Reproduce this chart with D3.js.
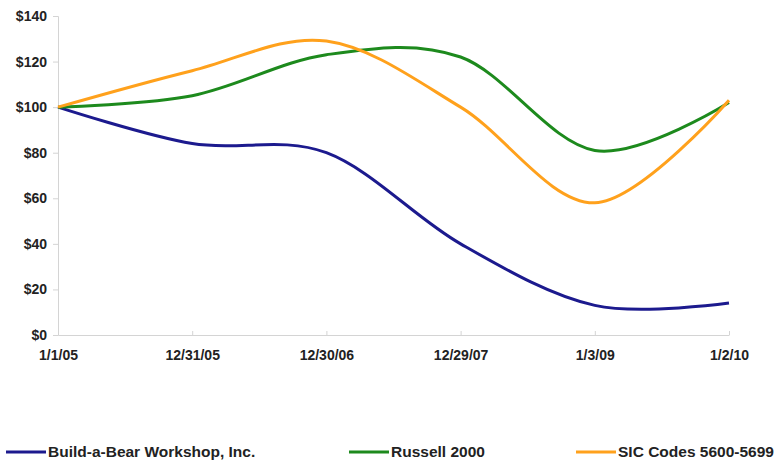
<!DOCTYPE html>
<html>
<head>
<meta charset="utf-8">
<script src="https://cdn.jsdelivr.net/npm/d3@7"></script>
<style>
  body { margin: 0; background: #fff; }
  text { font-family: "Liberation Sans", Arial, sans-serif; font-weight: bold; fill: #222; }
</style>
</head>
<body>
<div id="chart"></div>
<script>
const dates = ["1/1/05", "12/31/05", "12/30/06", "12/29/07", "1/3/09", "1/2/10"];
const bear = [100, 84, 80, 40, 13, 14];
const russell = [100, 105, 123, 122, 81, 102];
const sic = [100, 116, 129, 100, 58, 103];
const yTicks = [0, 20, 40, 60, 80, 100, 120, 140];

const series = [
    {name: "Build-a-Bear Workshop, Inc.", values: bear, color: "#1c1a8e"},
    {name: "Russell 2000", values: russell, color: "#1d8a1d"},
    {name: "SIC Codes 5600-5699", values: sic, color: "#ffa11c"}
];

const width = 780, height = 466;
const plotLeft = 58, plotRight = 729, plotTop = 16, plotBottom = 335;

const svg = d3.select("#chart").append("svg")
    .attr("width", width)
    .attr("height", height);

var x = d3.scalePoint()
    .domain(dates)
    .range([plotLeft, plotRight]);

var y = d3.scaleLinear()
    .domain([0, 140])
    .range([plotBottom, plotTop]);

// y axis
const yAxis = svg.append("g")
    .attr("transform", `translate(${plotLeft},0)`)
    .call(d3.axisLeft(y).tickValues(yTicks).tickSize(5).tickPadding(6).tickFormat(d => "$" + d));
yAxis.select(".domain").attr("stroke", "#d4d4d4");
yAxis.selectAll(".tick line").attr("stroke", "#d4d4d4");
yAxis.selectAll(".tick text").attr("font-size", 14);

// x axis
const xAxis = svg.append("g")
    .attr("transform", `translate(0,${plotBottom})`)
    .call(d3.axisBottom(x).tickSizeInner(-4).tickSizeOuter(0).tickPadding(15));
xAxis.select(".domain").attr("stroke", "#d4d4d4");
xAxis.selectAll(".tick line").attr("stroke", "#d4d4d4");
xAxis.selectAll(".tick text").attr("font-size", 14);

const line = d3.line()
    .x((d, i) => x(dates[i]))
    .y(d => y(d))
    .curve(d3.curveCardinal.tension(0));

svg.selectAll(".series")
    .data(series)
    .enter()
    .append("path")
    .attr("class", "series")
    .attr("fill", "none")
    .attr("stroke", d => d.color)
    .attr("stroke-width", 3)
    .attr("d", d => line(d.values));

// legend
const legendX = [6, 349, 576];
const legend = svg.selectAll(".legend")
    .data(series)
    .enter()
    .append("g")
    .attr("class", "legend")
    .attr("transform", (d, i) => `translate(${legendX[i]},452)`);
legend.append("line")
    .attr("x1", 0).attr("x2", 40)
    .attr("stroke", d => d.color)
    .attr("stroke-width", 3);
legend.append("text")
    .attr("x", 42)
    .attr("dy", "0.35em")
    .attr("font-size", 15.5)
    .text(d => d.name);
</script>
</body>
</html>
